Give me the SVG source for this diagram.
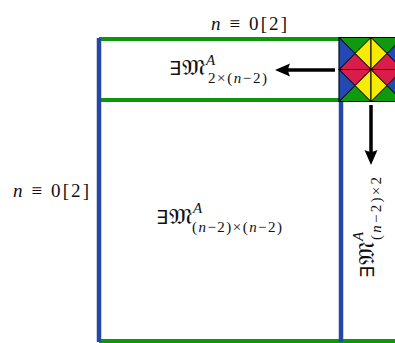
<svg xmlns="http://www.w3.org/2000/svg" xmlns:xlink="http://www.w3.org/1999/xlink" width="395" height="343" viewBox="0 0 395 343">
  <style>
    .g { stroke: #0c960c; stroke-width: 4; fill: none; }
    .b { stroke: #2447a8; stroke-width: 4.5; fill: none; }
    .t { stroke: #000; stroke-width: 1; stroke-linejoin: round; }
    .tg { fill: #0f990f; } .ty { fill: #f6ec00; } .tr { fill: #da1c4b; } .tb { fill: #2449b2; }
    .arr { stroke: #000; stroke-width: 3.5; fill: none; }
    text { font-family: "Liberation Serif", "DejaVu Serif", serif; fill: #111; }
    .it { font-style: italic; }
    .e { font-size: 19px; font-family: "DejaVu Sans", serif; font-weight: normal; }
    .m { font-size: 21px; }
    .s { font-size: 15px; }
    .lab { font-size: 19px; }
  </style>
  <defs>
    <marker id="ah" viewBox="-8 -8 17 16" markerWidth="17" markerHeight="16" refX="0" refY="0" orient="auto" markerUnits="userSpaceOnUse">
      <path d="M8,0 L-7,-6.5 Q-3.5,0 -7,6.5 Z" fill="#000"/>
    </marker>
    <g id="q">
      <polygon class="t tg" points="-16,-16 16,-16 0,0"/>
      <polygon class="t ty" points="16,-16 16,16 0,0"/>
      <polygon class="t tr" points="16,16 -16,16 0,0"/>
      <polygon class="t tb" points="-16,16 -16,-16 0,0"/>
    </g>
  </defs>

  <g id="grid-lines">
    <line class="g" x1="99" y1="39" x2="341" y2="39"/>
    <line class="g" x1="99" y1="100" x2="341" y2="100"/>
    <line class="g" x1="99" y1="341" x2="395" y2="341"/>
    <line class="b" x1="99" y1="38" x2="99" y2="342"/>
    <line class="b" x1="341" y1="38" x2="341" y2="342"/>
  </g>

  <g id="tile">
    <use xlink:href="#q" transform="translate(355,53.5)"/>
    <use xlink:href="#q" transform="translate(387,53.5) scale(-1,1)"/>
    <use xlink:href="#q" transform="translate(355,85.5) scale(1,-1)"/>
    <use xlink:href="#q" transform="translate(387,85.5) scale(-1,-1)"/>
  </g>

  <g id="label-top">
    <text class="lab" x="211" y="30" textLength="76"><tspan class="it">n</tspan> ≡ 0[2]</text>
  </g>
  <g id="label-left">
    <text class="lab" x="13" y="197" textLength="76"><tspan class="it">n</tspan> ≡ 0[2]</text>
  </g>

  <g id="node-strip">
    <text class="e" x="169" y="75">∃</text>
    <text class="m" x="182" y="75" textLength="23" lengthAdjust="spacingAndGlyphs">𝔐</text>
    <text class="s it" x="206" y="65">A</text>
    <text class="s" x="208" y="83" textLength="59"><tspan>2×(</tspan><tspan class="it">n</tspan><tspan>−2)</tspan></text>
  </g>

  <g id="node-main">
    <text class="e" x="156" y="224">∃</text>
    <text class="m" x="169" y="224" textLength="23" lengthAdjust="spacingAndGlyphs">𝔐</text>
    <text class="s it" x="193" y="213">A</text>
    <text class="s" x="192" y="232" textLength="90"><tspan>(</tspan><tspan class="it">n</tspan><tspan>−2)×(</tspan><tspan class="it">n</tspan><tspan>−2)</tspan></text>
  </g>

  <g id="node-column" transform="translate(374,278) rotate(-90)">
    <text class="e" x="0" y="0">∃</text>
    <text class="m" x="13" y="0" textLength="23" lengthAdjust="spacingAndGlyphs">𝔐</text>
    <text class="s it" x="37" y="-11">A</text>
    <text class="s" x="38" y="7" textLength="63"><tspan>(</tspan><tspan class="it">n</tspan><tspan>−2)×2</tspan></text>
  </g>

  <g id="connectors">
    <line class="arr" x1="335" y1="70" x2="283" y2="70" marker-end="url(#ah)"/>
    <line class="arr" x1="371" y1="105" x2="371" y2="157" marker-end="url(#ah)"/>
  </g>
</svg>
